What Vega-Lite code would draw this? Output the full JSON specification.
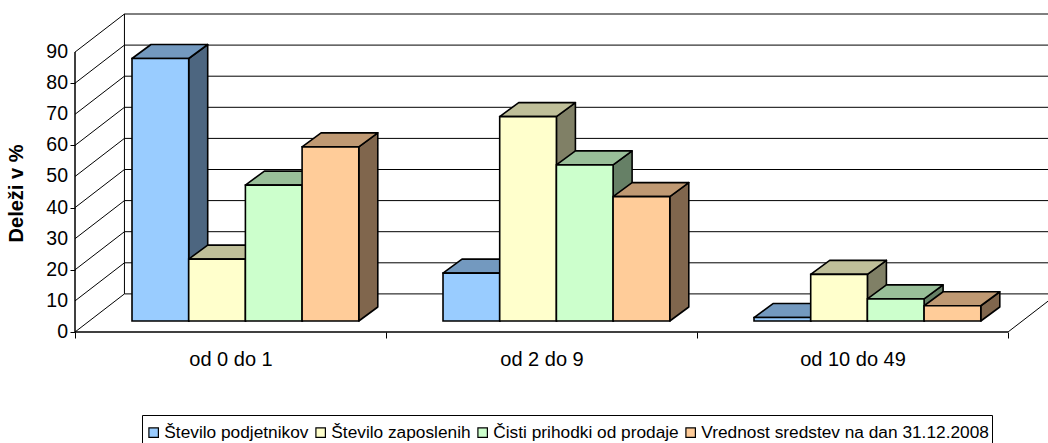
{
"$schema":"https://vega.github.io/schema/vega-lite/v6.json",
"width":973,"height":318,
"autosize":{"type":"none"},
"padding":{"left":75,"top":14,"right":0,"bottom":111},
"background":"#ffffff",
"config":{"view":{"stroke":null},"font":"Liberation Sans"},
"datasets":{
"bars":[
{"category":"od 0 do 1","series":"Število podjetnikov","value":84.4},
{"category":"od 0 do 1","series":"Število zaposlenih","value":19.9},
{"category":"od 0 do 1","series":"Čisti prihodki od prodaje","value":43.7},
{"category":"od 0 do 1","series":"Vrednost sredstev na dan 31.12.2008","value":56},
{"category":"od 2 do 9","series":"Število podjetnikov","value":15.4},
{"category":"od 2 do 9","series":"Število zaposlenih","value":65.7},
{"category":"od 2 do 9","series":"Čisti prihodki od prodaje","value":50.2},
{"category":"od 2 do 9","series":"Vrednost sredstev na dan 31.12.2008","value":40},
{"category":"od 10 do 49","series":"Število podjetnikov","value":1.1},
{"category":"od 10 do 49","series":"Število zaposlenih","value":15},
{"category":"od 10 do 49","series":"Čisti prihodki od prodaje","value":7.1},
{"category":"od 10 do 49","series":"Vrednost sredstev na dan 31.12.2008","value":4.9}
],
"levels":[{"level":0},{"level":10},{"level":20},{"level":30},{"level":40},{"level":50},{"level":60},{"level":70},{"level":80},{"level":90}],
"one":[{"n":1}]
},
"layer":[
{"data":{"name":"levels"},"transform":[{"calculate":"datum.level+12.25","as":"back"}],
 "mark":{"type":"rule","color":"#000","strokeWidth":1},
 "encoding":{
  "x":{"datum":0.159,"type":"quantitative","scale":{"domain":[0,3.1286],"nice":false,"zero":false},
   "axis":{"title":null,"grid":false,"domain":false,"values":[0,0.5,1,1.5,2,2.5,3],
    "tickColor":"#000","tickSize":6,"tickOpacity":{"expr":"datum.value%1==0?1:0"},
    "labelExpr":"datum.value==0.5?'od 0 do 1':datum.value==1.5?'od 2 do 9':datum.value==2.5?'od 10 do 49':''",
    "labelFont":"Liberation Sans","labelFontSize":20,"labelColor":"#000","labelPadding":11,"labelOverlap":false,"labelFlush":false}},
  "x2":{"datum":3.1286},
  "y":{"field":"back","type":"quantitative","scale":{"domain":[0,102.25],"nice":false,"zero":false},
   "axis":{"title":"Deleži v %","titleFont":"Liberation Sans","titleFontSize":20,"titleFontWeight":"bold","titleColor":"#000","titleX":-49,"titleY":179,
    "grid":false,"domain":false,"values":[0,10,20,30,40,50,60,70,80,90],"tickColor":"#000","tickSize":5,"labels":false}}
 }},
{"data":{"name":"levels"},
 "mark":{"type":"text","align":"right","baseline":"middle","dx":-7,"font":"Liberation Sans","fontSize":19.5,"color":"#000"},
 "encoding":{"x":{"datum":0,"type":"quantitative"},"y":{"field":"level","type":"quantitative"},"text":{"field":"level","type":"quantitative"}}},
{"data":{"name":"levels"},"transform":[{"calculate":"datum.level+12.25","as":"back"}],
 "mark":{"type":"rule","color":"#000","strokeWidth":1},
 "encoding":{"x":{"datum":0,"type":"quantitative"},"x2":{"datum":0.159},"y":{"field":"level","type":"quantitative"},"y2":{"field":"back"}}},
{"data":{"name":"one"},"mark":{"type":"rule","color":"#000","strokeWidth":1},
 "encoding":{"x":{"datum":0.159,"type":"quantitative"},"y":{"datum":12.25,"type":"quantitative"},"y2":{"datum":102.25}}},
{"data":{"name":"one"},"mark":{"type":"rule","color":"#000","strokeWidth":1.5},
 "encoding":{"x":{"datum":0,"type":"quantitative"},"y":{"datum":0,"type":"quantitative"},"y2":{"datum":90}}},
{"data":{"name":"one"},"mark":{"type":"rule","color":"#000","strokeWidth":1.5},
 "encoding":{"x":{"datum":0,"type":"quantitative"},"x2":{"datum":3},"y":{"datum":0,"type":"quantitative"}}},
{"data":{"name":"one"},"mark":{"type":"rule","color":"#000","strokeWidth":1},
 "encoding":{"x":{"datum":3,"type":"quantitative"},"x2":{"datum":3.159},"y":{"datum":0,"type":"quantitative"},"y2":{"datum":12.25}}},
{"data":{"name":"bars"},
 "transform":[
  {"calculate":"indexof(['od 0 do 1','od 2 do 9','od 10 do 49'],datum.category)","as":"c"},
  {"calculate":"indexof(['Število podjetnikov','Število zaposlenih','Čisti prihodki od prodaje','Vrednost sredstev na dan 31.12.2008'],datum.series)","as":"s"},
  {"calculate":"datum.c+0.1833+datum.s*0.1823","as":"xL"},
  {"calculate":"datum.xL+0.1823","as":"xR"},
  {"calculate":"datum.xR+0.0611","as":"xRd"},
  {"calculate":"datum.value+3.54","as":"top"},
  {"fold":["xR","xRd"],"as":["k","sx"]},
  {"calculate":"datum.k=='xR'?datum.top:datum.top+4.5","as":"sTop"},
  {"calculate":"datum.k=='xR'?3.54:8.04","as":"sBase"}
 ],
 "mark":{"type":"area","orient":"vertical","stroke":"#000","strokeWidth":1.6,"strokeJoin":"round"},
 "encoding":{
  "x":{"field":"sx","type":"quantitative"},
  "y":{"field":"sTop","type":"quantitative","stack":null},
  "y2":{"field":"sBase"},
  "detail":{"field":"category"},
  "fill":{"field":"series","type":"nominal","legend":null,"scale":{"domain":["Število podjetnikov","Število zaposlenih","Čisti prihodki od prodaje","Vrednost sredstev na dan 31.12.2008"],"range":["#4D6680","#808066","#668066","#80664D"]}}
 }},
{"data":{"name":"bars"},
 "transform":[
  {"calculate":"indexof(['od 0 do 1','od 2 do 9','od 10 do 49'],datum.category)","as":"c"},
  {"calculate":"indexof(['Število podjetnikov','Število zaposlenih','Čisti prihodki od prodaje','Vrednost sredstev na dan 31.12.2008'],datum.series)","as":"s"},
  {"calculate":"datum.c+0.1833+datum.s*0.1823","as":"xL"},
  {"calculate":"datum.xL+0.1823","as":"xR"},
  {"calculate":"datum.value+3.54","as":"top"},
  {"calculate":"datum.top+4.5","as":"topd"},
  {"fold":["top","topd"],"as":["k","ty"]},
  {"calculate":"datum.k=='top'?datum.xL:datum.xL+0.0611","as":"tx"},
  {"calculate":"datum.k=='top'?datum.xR:datum.xR+0.0611","as":"tx2"}
 ],
 "mark":{"type":"area","orient":"horizontal","stroke":"#000","strokeWidth":1.6,"strokeJoin":"round"},
 "encoding":{
  "y":{"field":"ty","type":"quantitative"},
  "x":{"field":"tx","type":"quantitative","stack":null},
  "x2":{"field":"tx2"},
  "detail":{"field":"category"},
  "fill":{"field":"series","type":"nominal","legend":null,"scale":{"domain":["Število podjetnikov","Število zaposlenih","Čisti prihodki od prodaje","Vrednost sredstev na dan 31.12.2008"],"range":["#7399BF","#BFBF99","#99BF99","#BF9973"]}}
 }},
{"data":{"name":"bars"},
 "transform":[
  {"calculate":"indexof(['od 0 do 1','od 2 do 9','od 10 do 49'],datum.category)","as":"c"},
  {"calculate":"indexof(['Število podjetnikov','Število zaposlenih','Čisti prihodki od prodaje','Vrednost sredstev na dan 31.12.2008'],datum.series)","as":"s"},
  {"calculate":"datum.c+0.1833+datum.s*0.1823","as":"xL"},
  {"calculate":"datum.xL+0.1823","as":"xR"},
  {"calculate":"datum.value+3.54","as":"top"},
  {"calculate":"3.54","as":"base"}
 ],
 "mark":{"type":"rect","stroke":"#000","strokeWidth":1.6},
 "encoding":{
  "x":{"field":"xL","type":"quantitative"},
  "x2":{"field":"xR"},
  "y":{"field":"top","type":"quantitative"},
  "y2":{"field":"base"},
  "fill":{"field":"series","type":"nominal","scale":{"domain":["Število podjetnikov","Število zaposlenih","Čisti prihodki od prodaje","Vrednost sredstev na dan 31.12.2008"],"range":["#99CCFF","#FFFFCC","#CCFFCC","#FFCC99"]},
   "legend":{"title":" ","titleFontSize":5,"titlePadding":1,"orient":"none","legendX":67,"legendY":401,"direction":"horizontal","columns":4,"symbolType":"square","symbolSize":90,"symbolStrokeColor":"#000","symbolStrokeWidth":1.2,"labelFont":"Liberation Sans","labelFontSize":17.3,"labelColor":"#000","labelLimit":400,"columnPadding":3,"labelOffset":2,"fillColor":"#fff","strokeColor":"#000","padding":3,"cornerRadius":0}}
 }}
],
"resolve":{"scale":{"fill":"independent"}}
}
